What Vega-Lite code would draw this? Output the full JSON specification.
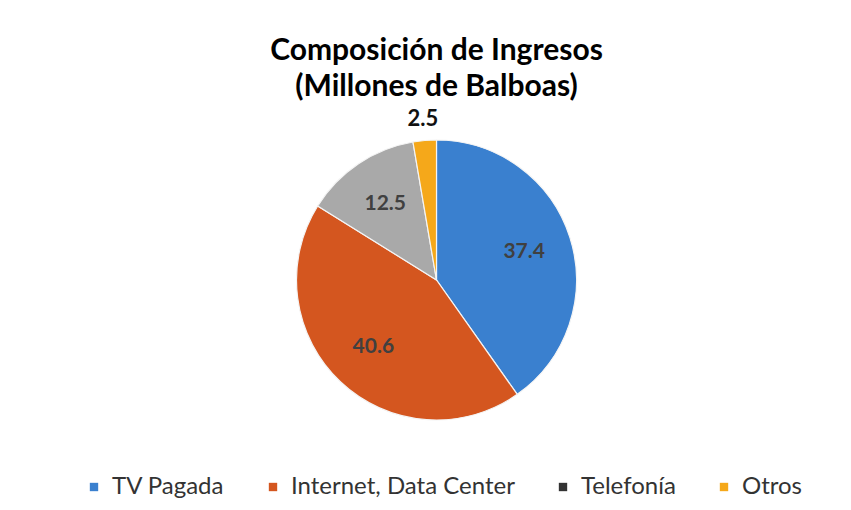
{
  "$schema": "https://vega.github.io/schema/vega-lite/v6.json",
  "width": 851,
  "height": 510,
  "autosize": {"type": "fit", "contains": "padding"},
  "padding": {"top": 36, "bottom": 56, "left": 32, "right": 10},
  "background": "white",
  "title": {
    "text": ["Composición de Ingresos", "(Millones de Balboas)"],
    "font": "Lato",
    "fontSize": 30,
    "fontWeight": "bold",
    "color": "#000000",
    "lineHeight": 36,
    "anchor": "middle",
    "offset": 4
  },
  "data": {
    "values": [
      {"category": "TV Pagada", "value": 37.4},
      {"category": "Internet, Data Center", "value": 40.6},
      {"category": "Telefonía", "value": 12.5},
      {"category": "Otros", "value": 2.5}
    ]
  },
  "transform": [
    {"window": [{"op": "row_number", "as": "orden"}]}
  ],
  "encoding": {
    "theta": {"field": "value", "type": "quantitative", "stack": true},
    "order": {"field": "orden", "type": "quantitative"}
  },
  "layer": [
    {
      "mark": {"type": "arc", "outerRadius": 140, "stroke": "#f4f4f4", "strokeWidth": 1.2},
      "encoding": {
        "color": {
          "condition": {"test": "datum.category === 'Telefonía'", "value": "#a9a9a9"},
          "field": "category",
          "type": "nominal",
          "scale": {
            "domain": ["TV Pagada", "Internet, Data Center", "Telefonía", "Otros"],
            "range": ["#3a80cf", "#d4561f", "#333333", "#f5a81a"]
          },
          "legend": {
            "title": null,
            "orient": "none",
            "legendX": 50,
            "legendY": 369,
            "direction": "horizontal",
            "symbolType": "square",
            "symbolSize": 70,
            "symbolStrokeWidth": 0,
            "labelFont": "Lato",
            "labelFontSize": 24,
            "labelColor": "#333333",
            "labelFontWeight": "normal",
            "labelLimit": 500,
            "columnPadding": 36,
            "symbolOffset": 0,
            "labelOffset": 6
          }
        }
      }
    },
    {
      "mark": {"type": "text", "radius": 92, "font": "Lato", "fontSize": 21, "fontWeight": "bold", "color": "#404040"},
      "encoding": {
        "text": {
          "condition": {"test": "datum.category === 'Otros'", "value": ""},
          "field": "value",
          "type": "quantitative",
          "format": ".1f"
        }
      }
    },
    {
      "mark": {"type": "text", "radius": 162, "font": "Lato", "fontSize": 22, "fontWeight": "bold", "color": "#111111"},
      "encoding": {
        "text": {
          "condition": {"test": "datum.category !== 'Otros'", "value": ""},
          "field": "value",
          "type": "quantitative",
          "format": ".1f"
        }
      }
    }
  ],
  "config": {"view": {"stroke": null}}
}
